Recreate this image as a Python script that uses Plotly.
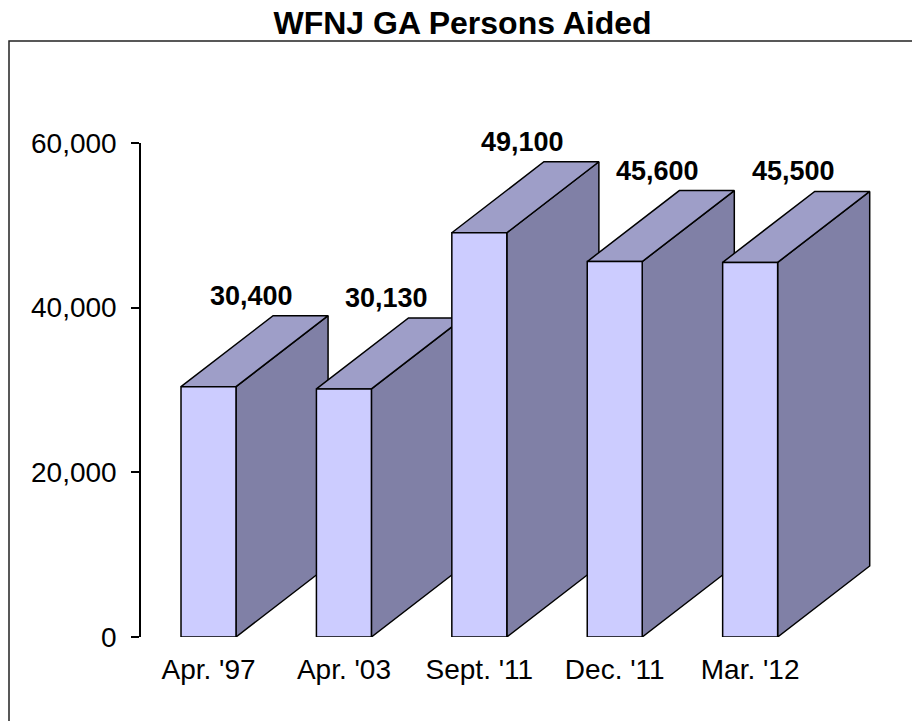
import plotly.graph_objects as go

categories = ["Apr. '97", "Apr. '03", "Sept. '11", "Dec. '11", "Mar. '12"]
values = [30400, 30130, 49100, 45600, 45500]
value_labels = ["30,400", "30,130", "49,100", "45,600", "45,500"]
y_ticks = [0, 20000, 40000, 60000]

FONT = "Liberation Sans, Arial, sans-serif"
FRONT = "#CCCCFF"
TOP = "#9E9EC8"
SIDE = "#8080A6"
W = 0.406      # bar front width (category units)
DX = 0.68      # depth offset x (category units)
DY = 8624      # depth offset y (value units)

FIG_W, FIG_H = 912, 721
L, R_EDGE, T, B_EDGE = 141, 880, 143, 637
PW, PH = R_EDGE - L, B_EDGE - T

fig = go.Figure()
for i, v in enumerate(values):
    xl, xr = i - W / 2, i + W / 2
    side_x = [xr, xr + DX, xr + DX, xr, xr]
    side_y = [0, DY, v + DY, v, 0]
    top_x = [xl, xr, xr + DX, xl + DX, xl]
    top_y = [v, v, v + DY, v + DY, v]
    front_x = [xl, xr, xr, xl, xl]
    front_y = [0, 0, v, v, 0]
    for px, py, col in ((side_x, side_y, SIDE), (top_x, top_y, TOP), (front_x, front_y, FRONT)):
        fig.add_trace(go.Scatter(
            x=px, y=py, mode="lines", fill="toself", fillcolor=col,
            line=dict(color="black", width=1.5), hoverinfo="skip",
            showlegend=False,
        ))
    fig.add_annotation(
        x=i, y=v, text=value_labels[i], showarrow=False,
        xshift=43, yshift=91, yanchor="middle",
        font=dict(family=FONT, size=27, color="black", weight="bold"),
    )

fig.update_layout(
    width=FIG_W, height=FIG_H,
    margin=dict(l=L, r=FIG_W - R_EDGE, t=T, b=FIG_H - B_EDGE),
    paper_bgcolor="white", plot_bgcolor="white",
    title=dict(
        text="<b>WFNJ GA Persons Aided</b>",
        x=462.5 / FIG_W, xref="container", xanchor="center",
        y=1 - 22.5 / FIG_H, yref="container", yanchor="middle",
        font=dict(family=FONT, size=32, color="black"),
    ),
    xaxis=dict(
        range=[-0.4985, 4.959], tickvals=list(range(len(categories))),
        ticktext=categories, showline=False, showgrid=False, zeroline=False,
        ticks="", tickfont=dict(family=FONT, size=28, color="black"),
        ticklabelstandoff=13,
    ),
    yaxis=dict(
        range=[0, 60000], tickvals=y_ticks, tickformat=",",
        showline=True, linecolor="black", linewidth=1.5,
        ticks="outside", ticklen=8, tickwidth=1.5, tickcolor="black",
        showgrid=False, zeroline=False,
        tickfont=dict(family=FONT, size=28, color="black"),
        ticklabelstandoff=9,
    ),
    shapes=[dict(
        type="rect", xref="paper", yref="paper",
        x0=(9 - L) / PW, x1=(940 - L) / PW,
        y0=(B_EDGE - 760) / PH, y1=(B_EDGE - 41) / PH,
        line=dict(color="#222222", width=1.5), fillcolor="rgba(0,0,0,0)",
        layer="above",
    )],
)

fig.write_html(
    "out.html",
    config={"displayModeBar": False},
    post_script="document.body.style.margin='0px';document.body.style.overflow='hidden';",
)
